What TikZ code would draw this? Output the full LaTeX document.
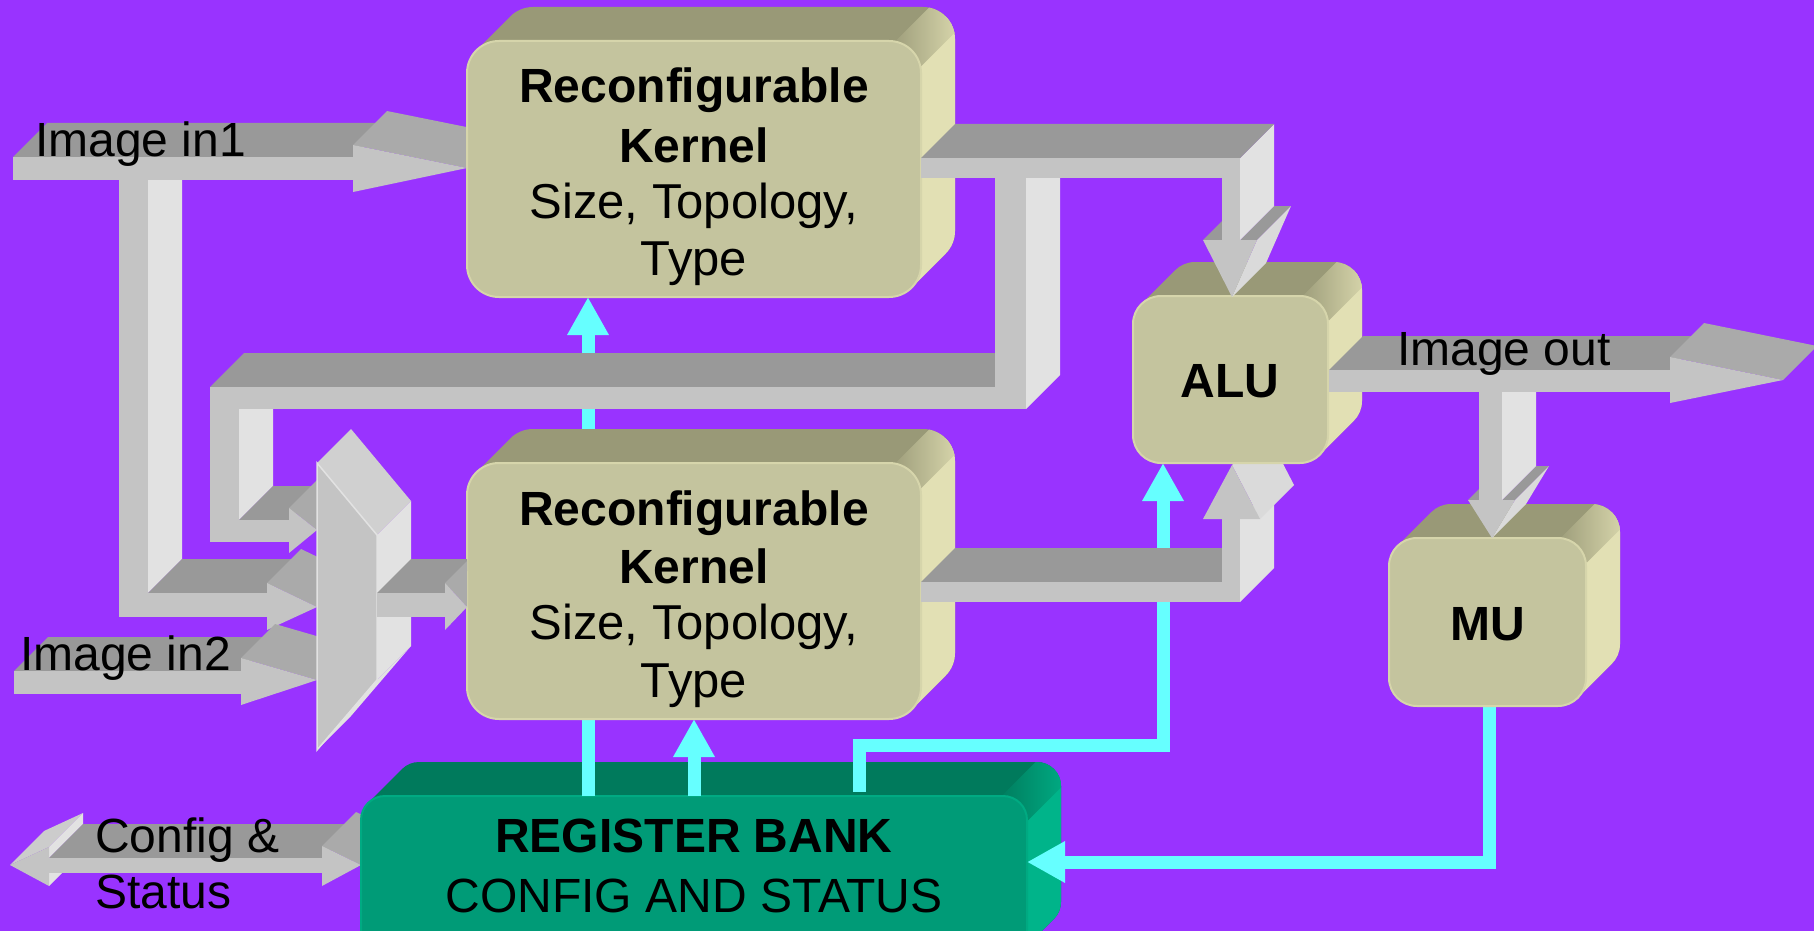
\documentclass[tikz,border=0pt]{standalone}
\usepackage{fontspec}
\setmainfont{Liberation Sans}
\usetikzlibrary{arrows.meta}
\definecolor{bg}{HTML}{9933FF}
\definecolor{kfront}{HTML}{C4C49E}
\definecolor{ktop}{HTML}{999977}
\definecolor{kside}{HTML}{E2E0B4}
\definecolor{rfront}{HTML}{009B77}
\definecolor{rtop}{HTML}{007A5C}
\definecolor{rside}{HTML}{00B48A}
\definecolor{gfront}{HTML}{C4C4C4}
\definecolor{gtop}{HTML}{999999}
\definecolor{gside}{HTML}{E2E2E2}
\definecolor{gslant}{HTML}{AAAAAA}
\definecolor{gslantl}{HTML}{CCCCCC}
\definecolor{gslantr}{HTML}{DADADA}
\definecolor{gmux}{HTML}{D0D0D0}
\definecolor{cy}{HTML}{66FFFF}
% extruded face of an edge (x1,y1)-(x2,y2)
\newcommand{\xf}[5]{\fill[#1] (#2,#3) -- (#4,#5) -- ({#4+34},{#5-34}) -- ({#2+34},{#3-34}) -- cycle;}
% hull of a 3D rounded box (back face + sweep)
\newcommand{\hullpath}[5]{%
  [rounded corners=#5] ({#1+34},{#2-34}) rectangle ({#3+34},{#4-34})
  [sharp corners] ({#3-0.293*#5},{#4-0.293*#5}) -- ({#3-0.293*#5+34},{#4-0.293*#5-34}) -- ({#1+0.293*#5+34},{#2+0.293*#5-34}) -- ({#1+0.293*#5},{#2+0.293*#5}) -- cycle}
% 3D rounded box: x0 y0 x1 y1 r front top side
\newcommand{\cubebox}[8]{%
  \fill[#7] \hullpath{#1}{#2}{#3}{#4}{#5};
  \begin{scope}
    \clip (-1000,{#3+#2+1000}) -- ({#3+#2+1000},-1000) -- (6000,6000) -- cycle;
    \fill[#8] \hullpath{#1}{#2}{#3}{#4}{#5};
  \end{scope}
  \begin{scope}
    \clip \hullpath{#1}{#2}{#3}{#4}{#5};
    \begin{scope}[shift={({#3-0.293*#5+17},{#2+0.293*#5-17})},rotate=-45]
      \shade[left color=#7,right color=#8] (-18,-40) rectangle (18,40);
    \end{scope}
  \end{scope}
  \fill[#6,rounded corners=#5,draw=#8!60!#6,line width=2] (#1,#2) rectangle (#3,#4);
}
\tikzset{
  lbl/.style={font=\fontsize{48}{58}\selectfont, inner sep=0pt, text=black},
  lblr/.style={font=\fontsize{49}{58}\selectfont, inner sep=0pt, text=black},
  cyl/.style={draw=cy, line width=13, line join=miter},
  cyarrow/.style={cyl, -{Triangle[length=38pt,width=39pt]}},
}
\begin{document}
\begin{tikzpicture}[x=1pt,y=-1pt]
\useasboundingbox (0,0) rectangle (1814,931);
\fill[bg] (0,0) rectangle (1814,931);

% ---- Group A: Image in1 bus with branch to the mux
\xf{gside}{148}{180}{148}{593}
\xf{gtop}{13}{157}{353}{157}
\xf{gslant}{353}{145}{467}{168}
\xf{gtop}{148}{593}{267}{593}
\xf{gslant}{267}{583}{317}{607}
\fill[gfront] (13,157) rectangle (353,180);
\fill[gfront] (353,145) -- (467,168) -- (353,192) -- cycle;
\fill[gfront] (119,180) rectangle (148,617);
\fill[gfront] (119,593) rectangle (267,617);
\fill[gfront] (267,583) -- (317,607) -- (267,630) -- cycle;

% ---- Group E: Config & Status double arrow
\xf{gslantl}{10}{865}{49}{847}
\xf{gside}{49}{847}{49}{858}
\xf{gside}{49}{873}{49}{886}
\xf{gtop}{49}{858}{322}{858}
\xf{gslant}{322}{846}{361}{865}
\fill[gfront] (49,858) rectangle (322,873);
\fill[gfront] (49,847) -- (10,865) -- (49,886) -- cycle;
\fill[gfront] (322,846) -- (361,865) -- (322,886) -- cycle;

% ---- Register bank
\cubebox{361}{796}{1027}{960}{24}{rfront}{rtop}{rside}

% ---- cyan control lines
\coordinate (rbA) at (588,796);
\coordinate (k1bot) at (588,297);
\coordinate (rbB) at (694,796);
\coordinate (k2bot) at (694,719);
\coordinate (rbC) at (859,792);
\coordinate (bendC1) at (859,745);
\coordinate (bendC2) at (1163,745);
\coordinate (alubot) at (1163,463);
\coordinate (mubot) at (1489,700);
\coordinate (bendD) at (1489,862);
\coordinate (rbright) at (1027,862);
\draw[cyarrow] (rbA) -- (k1bot);
\draw[cyarrow] (rbB) -- (k2bot);
\draw[cyarrow] (rbC) -- (bendC1) -- (bendC2) -- (alubot);
\draw[cyarrow] (mubot) -- (bendD) -- (rbright);

% ---- Kernel 2
\cubebox{467}{463}{921}{719}{32}{kfront}{ktop}{kside}

% ---- Group C: kernel 2 to ALU
\xf{gtop}{921}{582}{1222}{582}
\xf{gside}{1240}{519}{1240}{602}
\xf{gslantr}{1232}{465}{1260}{519}
\fill[gfront] (921,582) rectangle (1240,602);
\fill[gfront] (1222,519) rectangle (1240,602);
\fill[gfront] (1203,519) -- (1232,465) -- (1260,519) -- cycle;

% ---- Kernel 1, ALU, MU
\cubebox{467}{41}{921}{297}{32}{kfront}{ktop}{kside}
\cubebox{1133}{296}{1328}{463}{28}{kfront}{ktop}{kside}
\cubebox{1389}{538}{1586}{706}{28}{kfront}{ktop}{kside}

% ---- Group B: kernel 1 output, feedback, into ALU
\xf{gside}{239}{409}{239}{520}
\xf{gtop}{210}{387}{995}{387}
\xf{gside}{1026}{178}{1026}{409}
\xf{gtop}{1203}{240}{1222}{240}
\xf{gtop}{1240}{240}{1257}{240}
\xf{gslantr}{1257}{240}{1232}{297}
\xf{gside}{1240}{158}{1240}{240}
\xf{gtop}{921}{158}{1240}{158}
\xf{gtop}{239}{520}{289}{520}
\xf{gslant}{289}{508}{317}{530}
\fill[gfront] (921,158) rectangle (1240,178);
\fill[gfront] (1222,178) rectangle (1240,240);
\fill[gfront] (1203,240) -- (1257,240) -- (1232,297) -- cycle;
\fill[gfront] (995,178) rectangle (1026,409);
\fill[gfront] (210,387) rectangle (1026,409);
\fill[gfront] (210,409) rectangle (239,542);
\fill[gfront] (210,520) rectangle (289,542);
\fill[gfront] (289,508) -- (317,530) -- (289,553) -- cycle;

% ---- Group D: Image out with branch to MU
\xf{gtop}{1468}{500}{1479}{500}
\xf{gtop}{1502}{500}{1515}{500}
\xf{gslantr}{1515}{500}{1492}{538}
\xf{gside}{1502}{392}{1502}{500}
\xf{gtop}{1329}{370}{1670}{370}
\xf{gslant}{1670}{357}{1783}{380}
\fill[gfront] (1329,370) rectangle (1670,392);
\fill[gfront] (1670,357) -- (1783,380) -- (1670,403) -- cycle;
\fill[gfront] (1479,392) rectangle (1502,500);
\fill[gfront] (1468,500) -- (1515,500) -- (1492,538) -- cycle;

% ---- Group F: Image in2
\xf{gtop}{14}{671}{241}{671}
\xf{gslant}{241}{658}{317}{680}
\fill[gfront] (14,671) rectangle (241,694);
\fill[gfront] (241,658) -- (317,680) -- (241,705) -- cycle;

% ---- Multiplexer
\xf{gmux}{317}{463}{377}{535}
\xf{gside}{377}{535}{377}{680}
\xf{gside}{377}{680}{317}{750}
\fill[gfront,draw=gside,line width=1.5] (317,463) -- (377,535) -- (377,680) -- (317,750) -- cycle;

% ---- Group G: mux to kernel 2
\begin{scope}
\clip (0,0) rectangle (467,931);
\xf{gtop}{377}{593}{445}{593}
\xf{gslant}{445}{583}{467}{607}
\fill[gfront] (377,593) rectangle (445,617);
\fill[gfront] (445,583) -- (467,607) -- (445,630) -- cycle;
\end{scope}

% ---- texts
\node[lbl,anchor=base] (k1a) at (694,103) {\bfseries Reconfigurable};
\node[lbl,anchor=base] (k1b) at (694,162) {\bfseries Kernel};
\node[lblr,anchor=base] (k1c) at (694,218) {Size, Topology,};
\node[lblr,anchor=base] (k1d) at (694,275) {Type};
\node[lbl,anchor=base] (k2a) at (694,525) {\bfseries Reconfigurable};
\node[lbl,anchor=base] (k2b) at (694,583) {\bfseries Kernel};
\node[lblr,anchor=base] (k2c) at (694,639) {Size, Topology,};
\node[lblr,anchor=base] (k2d) at (694,697) {Type};
\node[lbl,anchor=base] (alu) at (1230,397) {\bfseries ALU};
\node[lbl,anchor=base] (mu) at (1488,640) {\bfseries MU};
\node[lbl,anchor=base west] (in1) at (35,156) {Image in1};
\node[lbl,anchor=base west] (in2) at (20,670) {Image in2};
\node[lbl,anchor=base west] (out) at (1397,365) {Image out};
\node[lbl,anchor=base west] (cfg1) at (95,852) {Config \&};
\node[lbl,anchor=base west] (cfg2) at (95,908) {Status};
\node[lbl,anchor=base] (rb1) at (694,852) {\bfseries REGISTER BANK};
\node[lbl,anchor=base] (rb2) at (694,912) {CONFIG AND STATUS};
\end{tikzpicture}
\end{document}
